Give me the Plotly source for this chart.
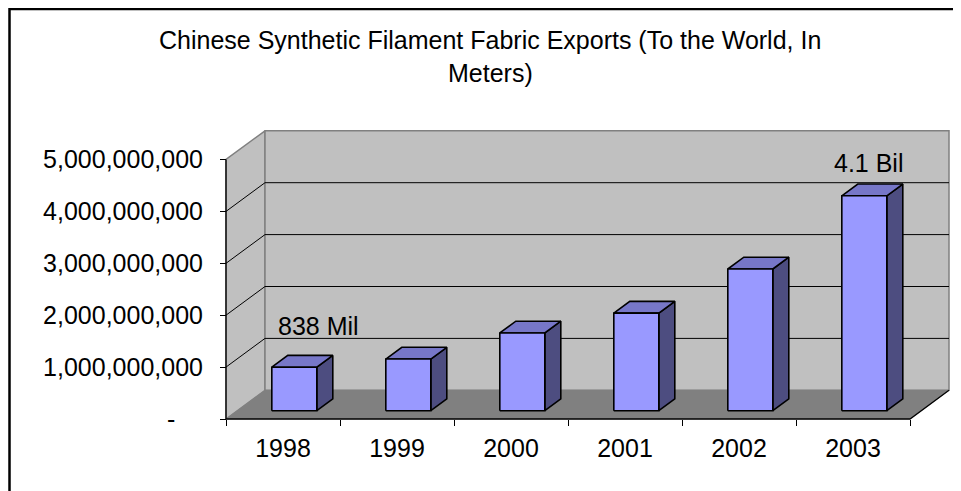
import plotly.graph_objects as go

# ---------------- data ----------------
years = ["1998", "1999", "2000", "2001", "2002", "2003"]
exports_m = [838e6, 995e6, 1.497e9, 1.88e9, 2.73e9, 4.14e9]
y_tick_vals = [0, 1e9, 2e9, 3e9, 4e9, 5e9]
y_tick_text = ["-" + "\u00a0" * 4] + [f"{v:,.0f}" for v in y_tick_vals[1:]]
title_lines = ["Chinese Synthetic Filament Fabric Exports (To the World, In", "Meters)"]
point_labels = {0: "838 Mil", 5: "4.1 Bil"}

# ---------------- style / geometry ----------------
W, H = 961, 491
OFF = 8                 # page body margin
FONT = "Arial, 'Liberation Sans', sans-serif"
FS = 25
CAT_PX = 114.0          # pixels per category
VAL_PX = 51.9 / 1e9     # pixels per unit value
X0_PX, Y0_PX = 226.0 - OFF, 419.0 - OFF   # front-left floor corner
DX = 39.0 / CAT_PX      # depth offset (category units)
DY = 28.7 / VAL_PX      # depth offset (value units)
BAR_W = 45.0 / CAT_PX
F0, F1 = 0.29, 0.70     # bar front/back depth fractions
YMAX = y_tick_vals[-1]
label_offsets = {0: (0.313, 0.96e9), 5: (0.132, 0.79e9)}

ml, mr, mt, mb = 200, 6, 115, 66
plot_w = W - ml - mr
plot_h = H - mt - mb
n = len(years)
x_lo = -0.5 - (X0_PX - ml) / CAT_PX
x_hi = -0.5 + (W - mr - X0_PX) / CAT_PX
y_lo = -((H - mb) - Y0_PX) / VAL_PX
y_hi = (Y0_PX - mt) / VAL_PX


def px2x(px):
    return (px - OFF - ml) / plot_w


def py2y(py):
    return ((H - mb) - (py - OFF)) / plot_h


def poly_trace(polys, fill, line_color, line_width):
    xs, ys = [], []
    for p in polys:
        xs += [pt[0] for pt in p] + [p[0][0], None]
        ys += [pt[1] for pt in p] + [p[0][1], None]
    return go.Scatter(x=xs, y=ys, mode="lines", fill="toself", fillcolor=fill,
                      line=dict(color=line_color, width=line_width),
                      hoverinfo="skip", showlegend=False)


def line_trace(segs, color, width):
    xs, ys = [], []
    for s in segs:
        xs += [pt[0] for pt in s] + [None]
        ys += [pt[1] for pt in s] + [None]
    return go.Scatter(x=xs, y=ys, mode="lines", line=dict(color=color, width=width),
                      hoverinfo="skip", showlegend=False)


xl, xr = -0.5, n - 0.5
traces = []
# left wall
traces.append(poly_trace([[(xl, 0), (xl, YMAX), (xl + DX, YMAX + DY), (xl + DX, DY)]],
                         "#C0C0C0", "#808080", 1.5))
# back wall
traces.append(poly_trace([[(xl + DX, DY), (xl + DX, YMAX + DY), (xr + DX, YMAX + DY), (xr + DX, DY)]],
                         "#C0C0C0", "#808080", 1.5))
# gridlines
grid = []
for v in y_tick_vals[1:-1]:
    grid.append([(xl, v), (xl + DX, v + DY), (xr + DX, v + DY)])
traces.append(line_trace(grid, "black", 1))
# floor
traces.append(poly_trace([[(xl, 0), (xr, 0), (xr + DX, DY), (xl + DX, DY)]],
                         "#808080", "#808080", 0.5))
traces.append(line_trace([[(xl, YMAX), (xl, 0), (xr, 0), (xr + DX, DY)]], "black", 1.3))

# bars
fronts, tops, sides = [], [], []
ox, oy = (F1 - F0) * DX, (F1 - F0) * DY
for i, v in enumerate(exports_m):
    xf0 = i - BAR_W / 2 + F0 * DX
    xf1 = xf0 + BAR_W
    yb = F0 * DY
    yt = v + F0 * DY
    fronts.append([(xf0, yb), (xf1, yb), (xf1, yt), (xf0, yt)])
    tops.append([(xf0, yt), (xf1, yt), (xf1 + ox, yt + oy), (xf0 + ox, yt + oy)])
    sides.append([(xf1, yb), (xf1 + ox, yb + oy), (xf1 + ox, yt + oy), (xf1, yt)])
traces.append(poly_trace(sides, "#4D4D80", "black", 1.6))
traces.append(poly_trace(tops, "#7777C8", "black", 1.6))
traces.append(poly_trace(fronts, "#9999FF", "black", 1.6))

fig = go.Figure(traces)

annotations = []
for i, txt in point_labels.items():
    dx_, dy_ = label_offsets[i]
    annotations.append(dict(x=i + dx_, y=exports_m[i] + dy_, xref="x", yref="y", text=txt,
                            showarrow=False, xanchor="center", yanchor="middle",
                            font=dict(family=FONT, size=FS, color="black")))
for txt, py in zip(title_lines, [39.5, 72.5]):
    annotations.append(dict(x=px2x(490), y=py2y(py), xref="paper", yref="paper", text=txt,
                            showarrow=False, xanchor="center", yanchor="middle",
                            font=dict(family=FONT, size=FS, color="black")))

fig.update_layout(
    width=W, height=H,
    margin=dict(l=ml, r=mr, t=mt, b=mb, pad=0, autoexpand=False),
    paper_bgcolor="white", plot_bgcolor="white",
    showlegend=False,
    font=dict(family=FONT, size=FS, color="black"),
    annotations=annotations,
    shapes=[dict(type="rect", xref="paper", yref="paper",
                 x0=px2x(9.5), y0=py2y(H + 40), x1=px2x(W + 40), y1=py2y(9),
                 line=dict(color="black", width=2.5), fillcolor="rgba(0,0,0,0)")],
    xaxis=dict(range=[x_lo, x_hi], anchor="free", position=py2y(Y0_PX + OFF),
               showgrid=False, zeroline=False, showline=False,
               tickmode="array", tickvals=list(range(n)), ticktext=years,
               ticks="", ticklabelstandoff=12, automargin=False,
               tickfont=dict(family=FONT, size=FS, color="black"),
               minor=dict(tickmode="array", tickvals=[i - 0.5 for i in range(n + 1)],
                          ticks="outside", ticklen=6, tickcolor="black", tickwidth=1,
                          showgrid=False),
               fixedrange=True),
    yaxis=dict(range=[y_lo, y_hi], anchor="free", position=px2x(X0_PX + OFF),
               showgrid=False, zeroline=False, showline=False,
               tickmode="array", tickvals=y_tick_vals, ticktext=y_tick_text,
               ticks="outside", ticklen=6, tickcolor="black", tickwidth=1,
               ticklabelstandoff=12, automargin=False,
               tickfont=dict(family=FONT, size=FS, color="black"),
               fixedrange=True),
)

fig.write_html("out.html")
